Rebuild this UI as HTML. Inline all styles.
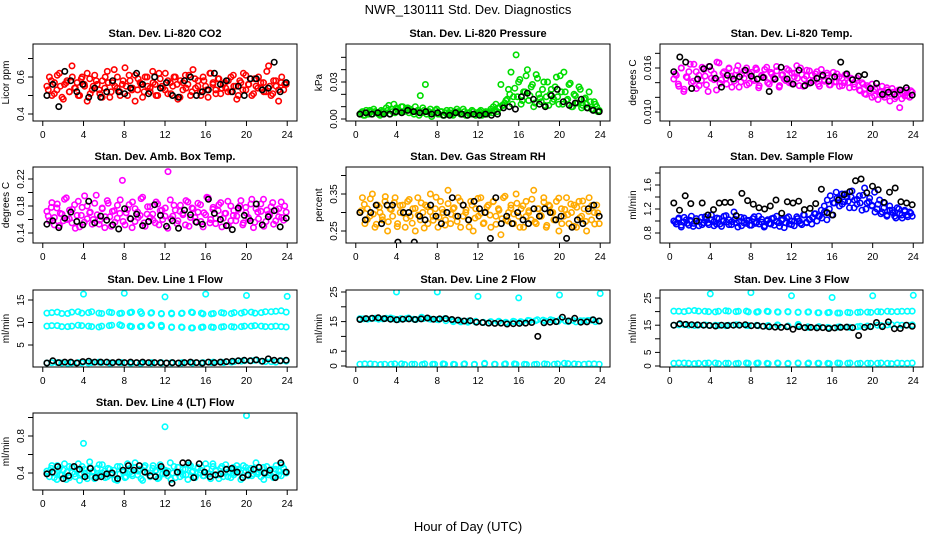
<!DOCTYPE html>
<html><head><meta charset="utf-8">
<style>
body{margin:0;background:#fff;}
svg{display:block;font-family:"Liberation Sans",sans-serif;}
</style></head>
<body>
<svg id="chart" width="936" height="540" viewBox="0 0 936 540" xmlns="http://www.w3.org/2000/svg">
<rect width="936" height="540" fill="#fff"/>
<text x="468" y="14" text-anchor="middle" font-size="13">NWR_130111  Std. Dev. Diagnostics</text>
<text x="468" y="531" text-anchor="middle" font-size="13">Hour of Day (UTC)</text>
</svg>
<script>
// ---- data ----
const hourTicks = [0,4,8,12,16,20,24];
const co2Main = [0.55,0.60,0.50,0.57,0.53,0.62,0.49,0.56,0.58,0.52,0.66,0.54,0.57,0.50,0.60,0.55,0.47,0.59,0.53,0.61,0.56,0.51,0.58,0.54,0.63,0.49,0.57,0.55,0.60,0.52,0.56,0.65,0.50,0.58,0.54,0.61,0.53,0.57,0.49,0.60,0.55,0.52,0.63,0.56,0.50,0.59,0.54,0.62,0.51,0.57,0.55,0.60,0.48,0.58,0.53,0.61,0.56,0.50,0.64,0.54,0.58,0.52,0.60,0.55,0.49,0.62,0.57,0.53,0.59,0.51,0.56,0.54,0.58,0.52,0.61,0.55,0.50,0.57,0.62,0.53,0.56,0.59,0.51,0.55,0.60,0.54,0.57,0.52,0.66,0.50,0.58,0.55,0.47,0.57,0.53,0.56];
const co2B = [0.53,0.58,0.51,0.61,0.55,0.48,0.57,0.52,0.60,0.54,0.50,0.59,0.56,0.62,0.51,0.55,0.58,0.53,0.49,0.60,0.57,0.52,0.64,0.54,0.50,0.58,0.55,0.61,0.53,0.47,0.59,0.56,0.52,0.60,0.54,0.57,0.50,0.62,0.55,0.53,0.58,0.51,0.60,0.56,0.49,0.57,0.54,0.61,0.52,0.59,0.55,0.50,0.58,0.53,0.62,0.56,0.51,0.59,0.54,0.57,0.52,0.60,0.55,0.48,0.58,0.53,0.61,0.56,0.50,0.59,0.54,0.57,0.52,0.63,0.55,0.51,0.58,0.53,0.60,0.56];
const co2Black = [0.50,0.56,0.44,0.63,0.58,0.52,0.56,0.49,0.54,0.49,0.52,0.58,0.52,0.51,0.54,0.62,0.56,0.51,0.60,0.54,0.57,0.50,0.49,0.58,0.60,0.50,0.52,0.53,0.62,0.56,0.58,0.52,0.55,0.50,0.59,0.59,0.53,0.54,0.68,0.52,0.57];
const presMain = [0.004,0.006,0.003,0.005,0.007,0.004,0.006,0.005,0.003,0.006,0.005,0.007,0.004,0.006,0.005,0.008,0.006,0.010,0.007,0.009,0.008,0.006,0.010,0.007,0.019,0.009,0.028,0.006,0.008,0.005,0.007,0.004,0.006,0.003,0.005,0.004,0.007,0.003,0.005,0.006,0.004,0.008,0.003,0.005,0.004,0.006,0.003,0.005,0.007,0.004,0.006,0.005,0.008,0.010,0.012,0.009,0.028,0.011,0.015,0.024,0.038,0.018,0.052,0.030,0.012,0.022,0.035,0.015,0.026,0.010,0.036,0.020,0.014,0.030,0.018,0.011,0.024,0.016,0.034,0.012,0.022,0.038,0.015,0.028,0.010,0.020,0.013,0.026,0.009,0.016,0.012,0.022,0.008,0.014,0.010,0.007];
const presB = [0.005,0.003,0.007,0.004,0.006,0.008,0.005,0.004,0.007,0.006,0.009,0.011,0.008,0.012,0.009,0.007,0.010,0.006,0.008,0.005,0.007,0.004,0.006,0.003,0.005,0.007,0.004,0.006,0.002,0.005,0.008,0.004,0.006,0.003,0.007,0.005,0.004,0.006,0.008,0.005,0.004,0.006,0.003,0.005,0.007,0.004,0.005,0.006,0.003,0.005,0.004,0.006,0.005,0.007,0.006,0.009,0.011,0.013,0.016,0.020,0.012,0.025,0.018,0.032,0.015,0.022,0.040,0.019,0.028,0.013,0.033,0.017,0.024,0.011,0.030,0.020,0.014,0.026,0.018,0.035,0.012,0.022,0.016,0.029,0.010,0.019,0.013,0.024,0.011,0.017,0.009,0.014,0.008,0.012,0.006];
const presBlack = [0.004,0.005,0.004,0.005,0.004,0.004,0.006,0.005,0.007,0.006,0.005,0.006,0.004,0.005,0.003,0.003,0.005,0.004,0.003,0.004,0.003,0.004,0.003,0.004,0.009,0.010,0.008,0.018,0.021,0.016,0.012,0.010,0.019,0.024,0.014,0.011,0.013,0.016,0.009,0.007,0.006];
const tempMain = [0.0145,0.0150,0.0135,0.0160,0.0128,0.0148,0.0155,0.0140,0.0165,0.0132,0.0150,0.0143,0.0158,0.0137,0.0162,0.0146,0.0152,0.0130,0.0167,0.0144,0.0155,0.0138,0.0160,0.0149,0.0142,0.0157,0.0134,0.0151,0.0146,0.0160,0.0139,0.0154,0.0143,0.0158,0.0136,0.0150,0.0147,0.0161,0.0138,0.0152,0.0144,0.0156,0.0134,0.0150,0.0145,0.0159,0.0140,0.0153,0.0148,0.0163,0.0136,0.0151,0.0145,0.0157,0.0139,0.0150,0.0143,0.0155,0.0135,0.0148,0.0142,0.0153,0.0137,0.0147,0.0141,0.0152,0.0135,0.0146,0.0140,0.0150,0.0133,0.0144,0.0138,0.0146,0.0130,0.0140,0.0125,0.0136,0.0129,0.0138,0.0122,0.0133,0.0127,0.0135,0.0120,0.0130,0.0125,0.0132,0.0118,0.0128,0.0106,0.0126,0.0122,0.0130,0.0120,0.0127];
const tempB = [0.0152,0.0138,0.0160,0.0131,0.0147,0.0165,0.0142,0.0155,0.0136,0.0161,0.0149,0.0128,0.0157,0.0144,0.0168,0.0139,0.0153,0.0146,0.0159,0.0134,0.0150,0.0163,0.0141,0.0156,0.0137,0.0152,0.0145,0.0160,0.0133,0.0149,0.0158,0.0140,0.0154,0.0147,0.0162,0.0136,0.0151,0.0143,0.0157,0.0139,0.0153,0.0146,0.0160,0.0135,0.0149,0.0156,0.0142,0.0152,0.0138,0.0158,0.0144,0.0150,0.0137,0.0154,0.0141,0.0148,0.0136,0.0151,0.0140,0.0146,0.0134,0.0143,0.0129,0.0138,0.0124,0.0134,0.0120,0.0131,0.0117,0.0128,0.0123,0.0133,0.0115,0.0127,0.0121,0.0130,0.0118,0.0126,0.0122,0.0129];
const tempBlack = [0.0155,0.0175,0.0168,0.0132,0.0145,0.0159,0.0162,0.0146,0.0134,0.0150,0.0145,0.0148,0.0157,0.0149,0.0145,0.0147,0.0128,0.0145,0.0161,0.0145,0.0138,0.0157,0.0136,0.0140,0.0146,0.0150,0.0142,0.0148,0.0168,0.0152,0.0144,0.0149,0.0151,0.0132,0.0139,0.0124,0.0127,0.0124,0.0130,0.0133,0.0123];
const ambMain = [0.172,0.158,0.185,0.163,0.177,0.151,0.168,0.190,0.160,0.174,0.155,0.182,0.166,0.149,0.178,0.195,0.161,0.170,0.153,0.184,0.167,0.159,0.176,0.148,0.188,0.164,0.172,0.156,0.181,0.169,0.218,0.152,0.175,0.162,0.186,0.157,0.171,0.166,0.193,0.150,0.179,0.163,0.168,0.155,0.183,0.173,0.160,0.177,0.147,0.189,0.165,0.174,0.158,0.181,0.169,0.152,0.186,0.163,0.176,0.157,0.171,0.182,0.149,0.167,0.192,0.160,0.178,0.154,0.173,0.185,0.162,0.169,0.151,0.180,0.166,0.158,0.175,0.188,0.155,0.170,0.163,0.183,0.148,0.176,0.161,0.172,0.190,0.157,0.168,0.179,0.153,0.174,0.164,0.186,0.159,0.171];
const ambB = [0.165,0.178,0.152,0.183,0.169,0.158,0.192,0.161,0.175,0.147,0.187,0.166,0.156,0.180,0.171,0.160,0.196,0.153,0.177,0.164,0.184,0.150,0.173,0.162,0.189,0.157,0.170,0.182,0.148,0.176,0.163,0.191,0.155,0.168,0.179,0.159,0.186,0.152,0.174,0.165,0.231,0.161,0.181,0.154,0.172,0.167,0.188,0.150,0.177,0.163,0.184,0.157,0.170,0.193,0.155,0.175,0.162,0.182,0.149,0.169,0.187,0.158,0.173,0.165,0.180,0.152,0.178,0.161,0.190,0.156,0.171,0.183,0.150,0.174,0.166,0.185,0.158,0.176,0.163,0.180];
const ambBlack = [0.153,0.158,0.148,0.162,0.171,0.157,0.152,0.187,0.155,0.165,0.159,0.152,0.146,0.176,0.161,0.168,0.151,0.157,0.182,0.166,0.150,0.158,0.147,0.174,0.167,0.156,0.153,0.190,0.169,0.160,0.151,0.145,0.177,0.166,0.158,0.183,0.152,0.164,0.173,0.149,0.162];
const rhMain = [0.30,0.34,0.27,0.31,0.29,0.35,0.26,0.32,0.30,0.28,0.33,0.25,0.31,0.29,0.34,0.27,0.30,0.32,0.26,0.33,0.29,0.31,0.25,0.34,0.28,0.30,0.32,0.27,0.35,0.29,0.31,0.26,0.33,0.30,0.28,0.36,0.27,0.31,0.29,0.34,0.26,0.32,0.30,0.28,0.33,0.25,0.31,0.29,0.34,0.27,0.30,0.32,0.26,0.33,0.29,0.31,0.24,0.34,0.28,0.30,0.32,0.27,0.35,0.29,0.31,0.26,0.33,0.30,0.28,0.36,0.27,0.31,0.29,0.34,0.26,0.32,0.30,0.28,0.33,0.25,0.31,0.29,0.34,0.27,0.30,0.32,0.26,0.33,0.29,0.31,0.25,0.34,0.28,0.30,0.32,0.27];
const rhB = [0.305,0.322,0.281,0.337,0.296,0.268,0.314,0.289,0.343,0.275,0.308,0.327,0.262,0.319,0.298,0.284,0.335,0.271,0.311,0.293,0.326,0.258,0.316,0.302,0.279,0.341,0.287,0.309,0.266,0.324,0.295,0.313,0.276,0.331,0.290,0.307,0.261,0.320,0.285,0.338,0.298,0.272,0.315,0.293,0.329,0.268,0.306,0.283,0.344,0.277,0.312,0.296,0.325,0.260,0.318,0.289,0.305,0.336,0.274,0.310,0.292,0.328,0.265,0.317,0.300,0.281,0.339,0.270,0.308,0.294,0.323,0.263,0.314,0.286,0.331,0.276,0.303,0.319,0.269,0.299];
const rhBlack = [0.30,0.28,0.30,0.32,0.27,0.32,0.32,0.22,0.30,0.30,0.22,0.29,0.28,0.32,0.29,0.27,0.30,0.34,0.29,0.32,0.28,0.33,0.31,0.30,0.23,0.34,0.27,0.29,0.27,0.30,0.28,0.27,0.31,0.29,0.31,0.30,0.28,0.29,0.23,0.26,0.28,0.27,0.31,0.32,0.29];
const flowMain = [1.00,0.95,1.05,0.90,0.98,1.02,0.93,1.08,0.96,1.00,0.92,1.06,0.97,1.03,0.94,1.10,0.99,0.95,1.04,0.91,1.08,0.98,1.02,0.94,1.15,0.97,1.00,0.92,1.05,0.96,1.01,0.93,1.07,0.98,0.95,1.03,0.90,1.00,0.96,1.04,0.93,1.08,0.97,1.01,0.89,1.05,0.95,1.00,0.92,1.07,1.00,0.94,1.10,0.97,1.03,0.95,1.12,1.00,1.08,1.05,1.15,1.02,1.20,1.10,1.30,1.38,1.25,1.45,1.32,1.40,1.22,1.50,1.35,1.28,1.42,1.18,1.55,1.30,1.38,1.25,1.48,1.20,1.35,1.15,1.30,1.10,1.25,1.18,1.08,1.22,1.12,1.05,1.18,1.10,1.15,1.08];
const flowB = [0.98,1.03,0.93,1.06,0.96,1.01,0.91,1.04,0.99,0.94,1.07,0.97,1.02,0.92,1.05,0.95,1.00,1.09,0.94,0.99,1.03,0.90,1.06,0.97,1.01,0.93,1.04,0.96,1.08,0.98,0.92,1.02,0.95,1.05,0.99,0.91,1.03,0.97,1.07,0.94,1.00,1.04,0.96,1.10,0.98,1.02,1.06,1.12,1.08,1.18,1.25,1.35,1.42,1.30,1.48,1.38,1.28,1.45,1.33,1.40,1.22,1.36,1.30,1.43,1.20,1.32,1.26,1.15,1.28,1.12,1.22,1.08,1.18,1.14,1.05,1.20,1.10,1.16,1.07,1.13];
const flowBlack = [1.30,1.18,1.42,1.29,1.00,1.30,1.10,1.19,1.30,1.31,1.31,1.09,1.46,1.34,1.28,1.22,1.20,1.25,1.35,1.13,1.32,1.30,1.33,1.19,1.21,1.29,1.53,1.14,1.10,1.35,1.44,1.49,1.67,1.70,1.47,1.58,1.52,1.31,1.48,1.55,1.32,1.30,1.27];
const line1High = [12.1,12.3,12.0,12.4,12.2,12.1,12.3,12.0,12.2,12.4,12.1,12.0,11.9,12.1,12.2,11.9,12.0,12.1,12.2,12.3,12.1,12.4,12.5,12.3];
const line1HighB = [12.2,12.0,12.3,12.1,12.4,12.0,12.2,12.1,12.3,12.0,12.2,11.9,12.1,12.0,12.3,12.1,11.9,12.2,12.0,12.1,12.3,12.2,12.4,12.6];
const line1Mid = [9.2,9.3,9.1,9.4,9.2,9.0,9.3,9.5,9.2,9.1,9.3,9.4,9.0,8.9,8.8,9.0,8.9,9.1,9.0,9.2,9.3,9.1,9.2,9.0];
const line1MidB = [9.3,9.1,9.2,9.3,9.1,9.2,9.4,9.3,9.1,9.2,9.5,9.1,8.9,9.0,8.8,8.9,9.0,9.0,9.1,9.1,9.2,9.2,9.1,9.1];
const line1Low = [1.0,1.1,0.9,1.1,1.0,1.2,1.0,1.1,1.0,0.9,1.0,1.1,1.0,1.1,1.0,1.1,1.2,1.1,1.3,1.5,1.6,1.3,1.2,1.4];
const line1LowB = [1.1,1.0,1.0,1.0,1.1,1.1,1.0,1.1,1.0,1.0,1.1,1.0,1.1,1.0,1.1,1.0,1.1,1.2,1.2,1.4,1.5,1.4,1.3,1.5];
const line1Spikes = [16.3,16.5,15.7,16.3,16.0,15.8];
const line1Black = [1.0,1.5,1.1,1.2,1.2,1.0,1.3,1.4,1.2,1.2,1.2,1.1,1.2,1.1,1.2,1.1,1.2,1.1,1.1,1.1,1.0,1.1,1.0,1.1,1.2,1.1,1.0,1.2,1.1,1.2,1.3,1.4,1.5,1.6,1.5,1.7,1.4,1.9,1.6,1.5,1.6];
const line2High = [16.0,15.8,16.1,15.9,16.2,15.7,16.0,15.8,16.5,15.9,15.7,16.0,15.5,15.2,14.8,15.1,14.7,14.9,15.1,14.6,15.0,14.8,15.3,15.6,15.2,15.4,15.8,15.0,14.9,15.3,15.5,15.2];
const line2HighB = [15.9,16.0,15.8,16.1,15.9,16.0,16.2,15.7,16.0,15.8,15.6,15.3,15.0,14.9,15.2,14.8,14.8,15.0,14.9,14.8,15.1,15.0,15.4,15.3,15.5,15.6,15.1,15.2,15.4,15.3,15.4,15.0];
const line2Low = [0.6,0.7,0.5,0.6,0.7,0.6,0.5,0.6,0.7,0.6,0.6,0.5,0.9,0.6,0.7,0.6,0.5,0.6,0.6,0.7,0.8,0.6,0.7,0.6];
const line2LowB = [0.7,0.6,0.6,0.7,0.5,0.6,0.7,0.6,0.6,0.5,0.7,0.6,0.7,0.6,0.6,0.7,0.6,0.5,0.7,0.6,0.9,0.7,0.6,0.7];
const line2Spikes = [25.0,25.0,23.5,23.0,24.0,24.5];
const line2Black = [15.7,16.0,16.1,16.3,16.0,15.8,15.6,15.8,15.9,15.7,15.9,16.2,15.8,15.9,16.0,15.7,15.5,15.2,15.3,14.8,14.7,14.5,14.4,14.5,14.2,14.3,14.4,14.5,14.7,10.0,14.6,14.8,15.0,16.5,15.2,16.1,14.8,14.9,15.6,15.2];
const line3High = [20.2,20.0,20.4,20.1,19.9,20.3,20.0,20.2,19.8,20.1,19.9,20.0,19.8,19.9,19.6,19.7,19.5,19.6,19.8,19.7,19.9,20.0,20.1,20.2];
const line3HighB = [20.1,20.3,20.2,20.0,20.1,20.2,20.1,19.9,20.0,20.0,19.8,19.9,19.7,19.8,19.6,19.6,19.5,19.7,19.7,19.8,20.0,20.1,20.0,20.1];
const line3Mid = [15.0,15.2,14.9,15.1,15.0,14.8,15.2,14.9,15.0,14.7,15.1,14.6,15.3,14.2,14.5,14.0,14.4,14.2,14.6,14.5,14.9,15.2,15.0,15.1];
const line3MidB = [15.1,15.0,15.0,15.0,14.9,15.0,15.1,14.9,14.8,14.9,14.9,14.7,14.8,14.4,14.3,14.2,14.3,14.3,14.5,14.7,15.0,15.1,15.1,15.0];
const line3Low = [1.0,1.1,0.9,1.0,1.1,1.0,0.9,1.1,1.0,1.0,1.1,0.9,1.0,1.1,1.0,0.9,1.0,1.1,1.0,1.0,1.1,0.9,1.0,1.1];
const line3LowB = [1.1,1.0,1.0,1.1,0.9,1.0,1.0,1.0,1.1,0.9,1.0,1.0,1.1,0.9,1.0,1.0,1.1,1.0,0.9,1.0,1.0,1.0,1.1,1.0];
const line3Spikes = [26.5,27.0,25.8,25.2,25.8,26.0];
const line3Black = [15.0,15.5,15.3,15.2,15.1,15.0,14.9,14.7,15.0,14.9,15.0,15.0,15.2,14.8,14.9,14.6,14.4,14.3,14.2,14.4,13.5,14.5,14.1,14.2,14.0,14.1,13.8,14.0,14.2,14.3,14.1,11.2,14.2,14.5,16.0,14.5,16.2,13.7,13.8,15.0,14.6];
const line4Main = [0.42,0.36,0.48,0.40,0.33,0.45,0.38,0.50,0.41,0.35,0.46,0.39,0.43,0.32,0.47,0.40,0.37,0.52,0.41,0.34,0.45,0.38,0.49,0.42,0.36,0.44,0.40,0.33,0.47,0.39,0.43,0.35,0.50,0.41,0.37,0.46,0.38,0.44,0.32,0.48,0.40,0.36,0.45,0.42,0.34,0.49,0.39,0.43,0.37,0.51,0.40,0.35,0.46,0.41,0.38,0.44,0.33,0.48,0.42,0.36,0.45,0.40,0.37,0.50,0.39,0.34,0.47,0.43,0.38,0.45,0.36,0.49,0.41,0.35,0.46,0.40,0.44,0.33,0.48,0.42,0.37,0.45,0.39,0.51,0.41,0.36,0.46,0.40,0.38,0.44,0.35,0.48,0.42,0.37,0.45,0.40];
const line4B = [0.40,0.45,0.35,0.48,0.38,0.43,0.33,0.47,0.41,0.36,0.50,0.39,0.44,0.34,0.46,0.42,0.37,0.49,0.40,0.35,0.45,0.38,0.43,0.32,0.47,0.41,0.36,0.44,0.39,0.51,0.42,0.34,0.46,0.40,0.37,0.48,0.43,0.35,0.45,0.39,0.42,0.33,0.47,0.40,0.36,0.44,0.38,0.49,0.41,0.35,0.46,0.43,0.37,0.45,0.39,0.50,0.42,0.34,0.47,0.40,0.36,0.44,0.38,0.48,0.41,0.35,0.46,0.43,0.37,0.45,0.39,0.42,0.33,0.47,0.40,0.36,0.44,0.38,0.49,0.41];
const line4Spikes = [0.72,0.90,1.02];
const line4Black = [0.39,0.41,0.47,0.34,0.37,0.47,0.44,0.36,0.45,0.35,0.36,0.39,0.40,0.34,0.43,0.48,0.43,0.48,0.41,0.37,0.36,0.47,0.40,0.29,0.41,0.51,0.51,0.35,0.50,0.41,0.36,0.38,0.39,0.44,0.45,0.41,0.35,0.38,0.44,0.46,0.40,0.43,0.35,0.51,0.41];

// ---- layout ----
const NS='http://www.w3.org/2000/svg';
const svg=document.getElementById('chart');
function mk(tag,attrs,parent){const e=document.createElementNS(NS,tag);for(const k in attrs)e.setAttribute(k,attrs[k]);(parent||svg).appendChild(e);return e;}
const cols=[[33,297],[346,610],[660,923]];
const rows=[[44,121],[167,243],[290,367],[413,490]];
const RED='#ff0000',GRN='#00dd00',MAG='#ff00ff',ORA='#ffaa00',BLU='#0000ff',CYA='#00ffff',BLK='#000000';
const panels=[
 {id:'co2',title:'Stan. Dev. Li-820 CO2',ylab:'Licor ppm',c:0,r:0,v1:0.4,p1:114,v2:0.6,p2:77,ticks:[0.4,0.5,0.6,0.7],labels:['0.4','','0.6',''],series:[[co2Main,RED,'even'],[co2B,RED,'evenB'],[co2Black,BLK,'even']]},
 {id:'pressure',title:'Stan. Dev. Li-820 Pressure',ylab:'kPa',c:1,r:0,v1:0,p1:119,v2:0.03,p2:82,ticks:[0,0.01,0.02,0.03,0.04,0.05],labels:['0.00','','','0.03','',''],series:[[presMain,GRN,'even'],[presB,GRN,'evenB'],[presBlack,BLK,'even']]},
 {id:'temp',title:'Stan. Dev. Li-820 Temp.',ylab:'degrees C',c:2,r:0,v1:0.010,p1:112,v2:0.016,p2:68,ticks:[0.010,0.012,0.014,0.016,0.018],labels:['0.010','','','0.016',''],series:[[tempMain,MAG,'even'],[tempB,MAG,'evenB'],[tempBlack,BLK,'even']]},
 {id:'ambbox',title:'Stan. Dev. Amb. Box Temp.',ylab:'degrees C',c:0,r:1,v1:0.14,p1:233,v2:0.22,p2:179,ticks:[0.14,0.16,0.18,0.20,0.22],labels:['0.14','','0.18','','0.22'],series:[[ambMain,MAG,'even'],[ambB,MAG,'evenB'],[ambBlack,BLK,'even']]},
 {id:'rh',title:'Stan. Dev. Gas Stream RH',ylab:'percent',c:1,r:1,v1:0.25,p1:231,v2:0.35,p2:194,ticks:[0.25,0.30,0.35,0.40],labels:['0.25','','0.35',''],series:[[rhMain,ORA,'even'],[rhB,ORA,'evenB'],[rhBlack,BLK,'even']]},
 {id:'sampleflow',title:'Stan. Dev. Sample Flow',ylab:'ml/min',c:2,r:1,v1:0.8,p1:233,v2:1.6,p2:185,ticks:[0.8,1.0,1.2,1.4,1.6,1.8],labels:['0.8','','1.2','','1.6',''],series:[[flowMain,BLU,'even'],[flowB,BLU,'evenB'],[flowBlack,BLK,'even']]},
 {id:'line1',title:'Stan. Dev. Line 1 Flow',ylab:'ml/min',c:0,r:2,v1:5,p1:345,v2:15,p2:300,ticks:[5,10,15],labels:['5','10','15'],series:[[line1High,CYA,'even'],[line1HighB,CYA,'evenB'],[line1Mid,CYA,'even'],[line1MidB,CYA,'evenB'],[line1Low,CYA,'even'],[line1LowB,CYA,'evenB'],[line1Spikes,CYA,'four'],[line1Black,BLK,'even']]},
 {id:'line2',title:'Stan. Dev. Line 2 Flow',ylab:'ml/min',c:1,r:2,v1:0,p1:366,v2:25,p2:292,ticks:[0,5,10,15,20,25],labels:['0','5','','15','','25'],series:[[line2High,CYA,'even'],[line2HighB,CYA,'evenB'],[line2Low,CYA,'even'],[line2LowB,CYA,'evenB'],[line2Spikes,CYA,'four'],[line2Black,BLK,'even']]},
 {id:'line3',title:'Stan. Dev. Line 3 Flow',ylab:'ml/min',c:2,r:2,v1:0,p1:366,v2:25,p2:298,ticks:[0,5,10,15,20,25],labels:['0','5','','15','','25'],series:[[line3High,CYA,'even'],[line3HighB,CYA,'evenB'],[line3Mid,CYA,'even'],[line3MidB,CYA,'evenB'],[line3Low,CYA,'even'],[line3LowB,CYA,'evenB'],[line3Spikes,CYA,'four'],[line3Black,BLK,'even']]},
 {id:'line4',title:'Stan. Dev. Line 4 (LT) Flow',ylab:'ml/min',c:0,r:3,v1:0.4,p1:473,v2:0.8,p2:436,ticks:[0.4,0.6,0.8,1.0],labels:['0.4','','0.8',''],series:[[line4Main,CYA,'even'],[line4B,CYA,'evenB'],[line4Spikes,CYA,'spike3'],[line4Black,BLK,'even']]}
];
panels.forEach(p=>{
 const [L,R]=cols[p.c],[T,B]=rows[p.r];
 const g=mk('g',{});
 
 
 const xs=h=>L+(h+0.96)*(R-L)/25.92;
 const ys=v=>p.p1+(v-p.v1)*(p.p2-p.p1)/(p.v2-p.v1);
 const ttl=mk('text',{x:(L+R)/2,y:T-7,'text-anchor':'middle','font-size':'11','font-weight':'bold'},g);ttl.textContent=p.title;
 
 
 const clip='clip-'+p.id;
 const cp=mk('clipPath',{id:clip},g);mk('rect',{x:L,y:T,width:R-L,height:B-T},cp);
 const pg=mk('g',{'clip-path':'url(#'+clip+')'},g);
 p.series.forEach(([arr,col,mode])=>{
  arr.forEach((v,i)=>{
   let h;
   if(mode==='four') h=(i+1)*4;
   else if(mode==='spike3') h=4+i*8;
   else if(mode==='evenB') h=0.4+(i+0.5)*23.5/arr.length;
   else h=arr.length>1?0.4+i*23.5/(arr.length-1):12;
   const c=mk('circle',{cx:xs(h).toFixed(1),cy:ys(v).toFixed(1),r:2.7,fill:'none',stroke:col,'stroke-width':1.6},pg);
   
   
  });
 });
 mk('rect',{x:L,y:T,width:R-L,height:B-T,fill:'none',stroke:'#000','stroke-width':1},g);
 mk('line',{x1:xs(0),x2:xs(24),y1:B,y2:B,stroke:'#000'},g);
 hourTicks.forEach(h=>{
  mk('line',{x1:xs(h),x2:xs(h),y1:B,y2:B+5,stroke:'#000'},g);
  const t=mk('text',{x:xs(h),y:B+17,'text-anchor':'middle','font-size':'10'},g);t.textContent=h;
  
  
 });
 const tv=p.ticks.filter(v=>ys(v)>=T-1&&ys(v)<=B+1);
 mk('line',{x1:L,x2:L,y1:ys(tv[0]),y2:ys(tv[tv.length-1]),stroke:'#000'},g);
 p.ticks.forEach((v,i)=>{
  const y=ys(v); if(y<T-1||y>B+1) return;
  mk('line',{x1:L-5,x2:L,y1:y,y2:y,stroke:'#000'},g);
  if(p.labels[i]){
   const t=mk('text',{x:L-9,y:y,'text-anchor':'middle','font-size':'10',transform:`rotate(-90 ${L-9} ${y})`},g);t.textContent=p.labels[i];
   
   
  }
 });
 const yl=mk('text',{x:L-24,y:(T+B)/2,'text-anchor':'middle','font-size':'10',transform:`rotate(-90 ${L-24} ${(T+B)/2})`},g);yl.textContent=p.ylab;
 
 
});
</script>
</body></html>
